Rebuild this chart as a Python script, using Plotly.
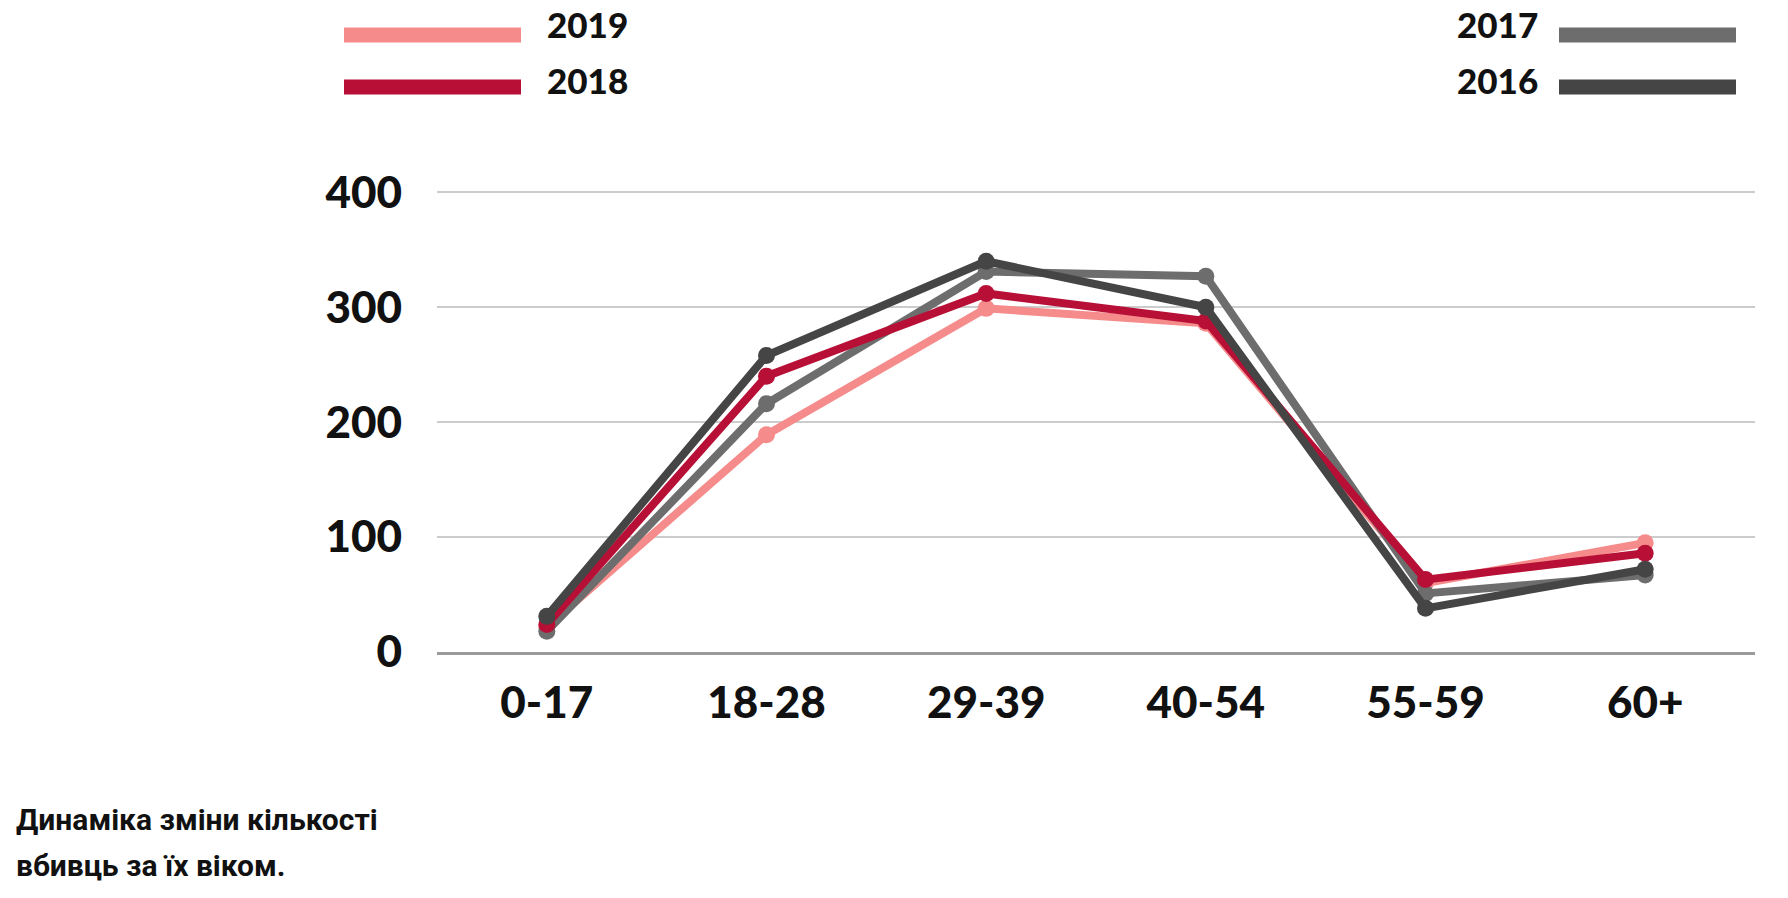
import plotly.graph_objects as go

categories = ["0-17", "18-28", "29-39", "40-54", "55-59", "60+"]
v2019 = [22, 189, 299, 286, 60, 95]
v2018 = [24, 240, 312, 288, 63, 86]
v2017 = [18, 216, 331, 327, 51, 67]
v2016 = [31, 258, 340, 300, 38, 72]
y_ticks = [0, 100, 200, 300, 400]

colors = {"2019": "#f58b8b", "2018": "#b80f36", "2017": "#6d6d6d", "2016": "#454545"}
series = [("2019", v2019), ("2017", v2017), ("2018", v2018), ("2016", v2016)]

W, H = 1788, 898
L, R, T, B = 437, 33, 190, 246
pw, ph = W - L - R, H - T - B

def px(x):
    return (x - L) / pw

def py(y):
    return (H - B - y) / ph

fig = go.Figure()
for name, vals in series:
    fig.add_trace(go.Scatter(
        x=categories, y=vals, name=name, mode="lines+markers",
        line=dict(color=colors[name], width=8),
        marker=dict(color=colors[name], size=17),
        showlegend=False,
    ))

tick_font = dict(family="Lato", size=44, color="#111111", weight=900)
leg_font = dict(family="Lato", size=35, color="#111111", weight=900)

shapes = []
annotations = []
# legend (left column)
for name, ly, ty in [("2019", 35, 24), ("2018", 87, 80)]:
    shapes.append(dict(type="line", xref="paper", yref="paper",
                       x0=px(344), x1=px(521), y0=py(ly), y1=py(ly),
                       line=dict(color=colors[name], width=15)))
    annotations.append(dict(text=name, xref="paper", yref="paper",
                            x=px(545), y=py(ty), xanchor="left", yanchor="middle",
                            showarrow=False, font=leg_font))
# legend (right column)
for name, ly, ty in [("2017", 35, 24), ("2016", 87, 80)]:
    shapes.append(dict(type="line", xref="paper", yref="paper",
                       x0=px(1559), x1=px(1736), y0=py(ly), y1=py(ly),
                       line=dict(color=colors[name], width=15)))
    annotations.append(dict(text=name, xref="paper", yref="paper",
                            x=px(1540), y=py(ty), xanchor="right", yanchor="middle",
                            showarrow=False, font=leg_font))

cap_font = dict(family="Roboto", size=30, color="#111111", weight="bold")
for txt, cy in [("Динаміка зміни кількості", 819), ("вбивць за їх віком.", 865)]:
    annotations.append(dict(text=txt, xref="paper", yref="paper",
                            x=px(14), y=py(cy), xanchor="left", yanchor="middle",
                            showarrow=False, font=cap_font))

fig.update_layout(
    width=W, height=H,
    margin=dict(l=L, r=R, t=T, b=B, pad=0),
    paper_bgcolor="white", plot_bgcolor="white",
    shapes=shapes, annotations=annotations,
    xaxis=dict(
        type="category", range=[-0.5, 5.5], showgrid=False, zeroline=False,
        showline=True, linecolor="#9a9a9a", linewidth=3,
        ticks="", tickfont=tick_font, ticklabelstandoff=10,
    ),
    yaxis=dict(
        range=[0, 402], tickvals=y_ticks, showgrid=True, gridcolor="#cccccc",
        gridwidth=2, zeroline=False, showline=False, ticks="",
        tickfont=tick_font, ticklabelstandoff=34,
    ),
)

fig.write_html("out.html", config={"displayModeBar": False},
               post_script="document.body.style.margin='0';document.body.style.overflow='hidden';")
